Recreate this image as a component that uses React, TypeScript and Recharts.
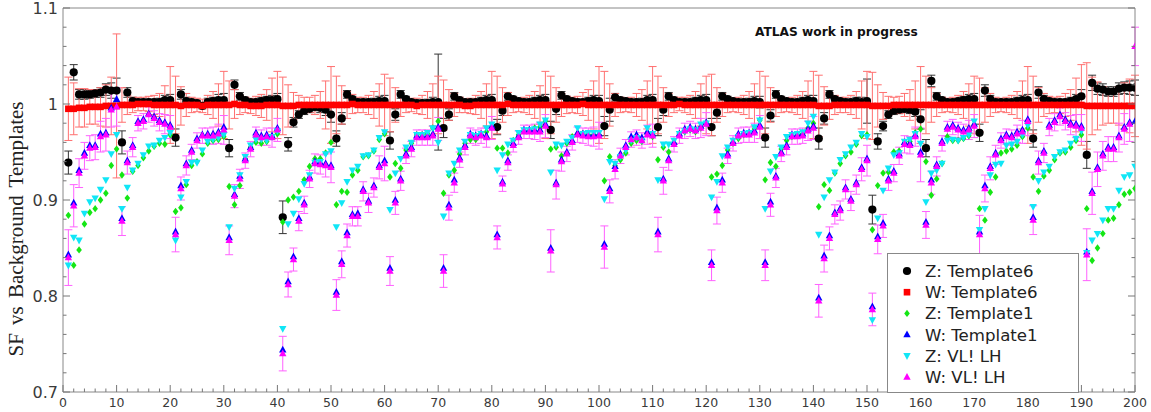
import { ScatterChart, Scatter, XAxis, YAxis, ErrorBar } from 'recharts'

// bin index along the x axis
const bins = Array.from({ length: 200 }, (_, i) => i + 1)

const xTicks = Array.from({ length: 101 }, (_, i) => i * 2)
const yTicks = Array.from({ length: 21 }, (_, i) => Math.round((0.7 + i * 0.02) * 100) / 100)

// Z: Template6
const zTemplate6 = [
    0.939, 1.033, 1.010, 1.010, 1.010, 1.011, 1.012, 1.015, 1.014, 1.014,
    0.960, 1.012, 1.003, 1.002, 1.002, 1.002, 1.002, 1.002, 1.004, 1.004,
    0.965, 1.010, 1.003, 1.002, 1.001, 0.998, 1.002, 1.003, 1.004, 1.004,
    0.954, 1.020, 1.008, 1.004, 1.002, 1.002, 1.003, 1.004, 1.004, 1.005,
    0.882, 0.958, 0.981, 0.989, 0.993, 0.995, 0.997, 0.996, 0.994, 0.989,
    0.964, 0.985, 1.010, 1.005, 1.002, 1.002, 1.002, 1.002, 1.003, 1.003,
    0.962, 0.989, 1.010, 1.005, 1.002, 1.001, 1.001, 1.001, 1.002, 1.002,
    0.975, 0.989, 1.008, 1.004, 1.002, 1.002, 1.002, 1.003, 1.004, 1.004,
    0.976, 0.993, 1.008, 1.005, 1.003, 1.002, 1.002, 1.003, 1.004, 1.004,
    0.973, 0.995, 1.009, 1.005, 1.003, 1.002, 1.002, 1.003, 1.004, 1.003,
    0.977, 0.994, 1.007, 1.004, 1.003, 1.002, 1.002, 1.002, 1.004, 1.004,
    0.976, 0.994, 1.008, 1.004, 1.002, 1.002, 1.002, 1.003, 1.004, 1.004,
    0.976, 0.991, 1.008, 1.005, 1.003, 1.002, 1.002, 1.002, 1.003, 1.002,
    0.965, 0.988, 1.010, 1.005, 1.003, 1.002, 1.002, 1.003, 1.004, 1.003,
    0.964, 0.985, 1.010, 1.005, 1.003, 1.002, 1.002, 1.003, 1.002, 1.003,
    0.890, 0.961, 0.977, 0.989, 0.993, 0.994, 0.995, 0.994, 0.992, 0.984,
    0.954, 1.024, 1.008, 1.004, 1.002, 1.002, 1.003, 1.004, 1.005, 1.005,
    0.970, 1.014, 1.005, 1.002, 1.002, 1.002, 1.002, 1.003, 1.004, 1.004,
    0.964, 1.012, 1.005, 1.003, 1.002, 1.002, 1.002, 1.003, 1.005, 1.008,
    0.947, 1.022, 1.016, 1.015, 1.013, 1.013, 1.016, 1.017, 1.017, 1.017,
]
const zTemplate6Err = [
    0.012, 0.008, 0.005, 0.005, 0.004, 0.004, 0.005, 0.006, 0.008, 0.013,
    0.012, 0.005, 0.004, 0.003, 0.003, 0.003, 0.003, 0.004, 0.005, 0.006,
    0.009, 0.005, 0.004, 0.003, 0.003, 0.003, 0.004, 0.004, 0.006, 0.007,
    0.009, 0.005, 0.004, 0.003, 0.003, 0.003, 0.004, 0.004, 0.005, 0.006,
    0.017, 0.007, 0.005, 0.004, 0.004, 0.004, 0.004, 0.005, 0.006, 0.008,
    0.008, 0.006, 0.004, 0.003, 0.003, 0.003, 0.003, 0.004, 0.005, 0.006,
    0.009, 0.006, 0.004, 0.003, 0.003, 0.003, 0.003, 0.004, 0.005, 0.050,
    0.010, 0.006, 0.004, 0.003, 0.003, 0.003, 0.003, 0.004, 0.005, 0.006,
    0.008, 0.005, 0.004, 0.003, 0.003, 0.003, 0.003, 0.004, 0.005, 0.006,
    0.009, 0.006, 0.004, 0.003, 0.003, 0.003, 0.003, 0.004, 0.005, 0.006,
    0.010, 0.012, 0.004, 0.003, 0.003, 0.003, 0.003, 0.004, 0.005, 0.006,
    0.009, 0.006, 0.004, 0.003, 0.003, 0.003, 0.003, 0.004, 0.005, 0.006,
    0.009, 0.006, 0.004, 0.003, 0.003, 0.003, 0.003, 0.004, 0.005, 0.006,
    0.010, 0.006, 0.004, 0.003, 0.003, 0.003, 0.003, 0.004, 0.005, 0.006,
    0.011, 0.006, 0.004, 0.003, 0.003, 0.003, 0.003, 0.004, 0.005, 0.023,
    0.015, 0.008, 0.005, 0.004, 0.004, 0.004, 0.004, 0.004, 0.005, 0.010,
    0.009, 0.006, 0.004, 0.003, 0.003, 0.003, 0.003, 0.004, 0.005, 0.006,
    0.009, 0.006, 0.004, 0.003, 0.003, 0.003, 0.003, 0.004, 0.005, 0.006,
    0.009, 0.006, 0.004, 0.003, 0.003, 0.003, 0.003, 0.004, 0.005, 0.007,
    0.014, 0.008, 0.006, 0.006, 0.005, 0.005, 0.006, 0.006, 0.007, 0.008,
]

// W: Template6
const wTemplate6 = [
    0.995, 0.995, 0.996, 0.996, 0.997, 0.997, 0.997, 0.998, 0.998, 0.998,
    0.999, 0.999, 0.999, 1.000, 1.000, 1.000, 0.999, 0.999, 0.999, 0.999,
    0.999, 0.998, 0.999, 0.999, 0.999, 0.998, 0.999, 0.999, 0.999, 0.999,
    0.999, 1.000, 0.999, 0.999, 0.998, 0.998, 0.998, 0.999, 0.999, 0.999,
    0.998, 0.998, 0.998, 0.999, 0.999, 0.999, 0.999, 0.999, 0.999, 0.999,
    0.999, 0.999, 0.999, 1.000, 0.999, 0.999, 0.999, 0.999, 0.999, 0.999,
    0.999, 0.999, 0.999, 0.999, 0.999, 0.998, 0.999, 0.999, 0.999, 0.999,
    0.999, 0.999, 0.999, 0.999, 0.998, 0.998, 0.999, 0.999, 0.999, 0.999,
    0.999, 0.999, 1.000, 0.999, 0.999, 0.999, 0.999, 0.999, 0.999, 0.999,
    0.999, 0.999, 0.999, 0.999, 0.999, 0.999, 1.000, 0.999, 0.999, 0.999,
    0.999, 0.999, 0.999, 0.999, 0.999, 0.999, 0.999, 0.999, 0.999, 0.999,
    0.999, 0.999, 0.999, 0.999, 1.000, 0.999, 0.999, 0.999, 0.999, 0.999,
    0.999, 0.999, 0.999, 0.999, 0.999, 0.999, 0.999, 0.999, 0.999, 0.999,
    0.999, 0.999, 0.999, 0.999, 0.999, 0.999, 0.999, 0.999, 0.999, 0.999,
    0.998, 0.998, 0.998, 0.999, 0.999, 0.999, 0.999, 0.999, 0.999, 0.999,
    0.998, 0.998, 0.998, 0.998, 0.999, 0.999, 0.999, 0.999, 0.999, 0.999,
    0.999, 0.999, 0.999, 0.999, 0.999, 0.999, 0.999, 0.999, 0.999, 0.999,
    0.999, 0.999, 0.999, 0.999, 0.999, 0.999, 0.999, 0.999, 0.999, 0.999,
    0.999, 0.999, 0.999, 0.999, 0.999, 0.999, 0.999, 0.999, 0.999, 0.999,
    0.998, 0.998, 0.998, 0.998, 0.998, 0.998, 0.998, 0.998, 0.998, 0.998,
]
const wTemplate6Err = [
    0.033, 0.027, 0.020, 0.020, 0.018, 0.018, 0.020, 0.022, 0.030, 0.075,
    0.018, 0.010, 0.008, 0.007, 0.007, 0.008, 0.010, 0.012, 0.020, 0.040,
    0.030, 0.020, 0.012, 0.008, 0.007, 0.007, 0.010, 0.014, 0.022, 0.035,
    0.025, 0.015, 0.010, 0.008, 0.008, 0.010, 0.012, 0.016, 0.028, 0.035,
    0.030, 0.022, 0.014, 0.010, 0.008, 0.008, 0.010, 0.014, 0.025, 0.040,
    0.030, 0.020, 0.014, 0.010, 0.008, 0.008, 0.010, 0.014, 0.022, 0.032,
    0.028, 0.018, 0.012, 0.008, 0.007, 0.008, 0.010, 0.014, 0.022, 0.030,
    0.026, 0.016, 0.012, 0.008, 0.007, 0.008, 0.010, 0.014, 0.022, 0.035,
    0.030, 0.018, 0.012, 0.008, 0.007, 0.008, 0.010, 0.014, 0.020, 0.035,
    0.030, 0.018, 0.012, 0.009, 0.008, 0.009, 0.012, 0.016, 0.025, 0.040,
    0.035, 0.022, 0.012, 0.008, 0.007, 0.008, 0.012, 0.016, 0.025, 0.040,
    0.030, 0.018, 0.012, 0.008, 0.007, 0.008, 0.010, 0.014, 0.022, 0.030,
    0.032, 0.018, 0.012, 0.008, 0.007, 0.008, 0.010, 0.014, 0.022, 0.035,
    0.030, 0.018, 0.012, 0.008, 0.007, 0.008, 0.010, 0.014, 0.025, 0.035,
    0.032, 0.020, 0.014, 0.010, 0.008, 0.008, 0.010, 0.014, 0.025, 0.035,
    0.035, 0.022, 0.014, 0.010, 0.008, 0.009, 0.012, 0.016, 0.025, 0.040,
    0.030, 0.018, 0.012, 0.008, 0.007, 0.008, 0.010, 0.014, 0.022, 0.030,
    0.028, 0.018, 0.012, 0.008, 0.007, 0.008, 0.010, 0.014, 0.025, 0.040,
    0.030, 0.018, 0.012, 0.009, 0.008, 0.009, 0.012, 0.016, 0.028, 0.042,
    0.045, 0.030, 0.025, 0.020, 0.018, 0.018, 0.020, 0.024, 0.028, 0.032,
]

// Z: Template1
const zTemplate1 = [
    0.884, 0.832, 0.848, 0.875, 0.887, 0.891, 0.900, 0.907, 0.936, 0.953,
    0.926, 0.902, 0.930, 0.936, 0.944, 0.951, 0.956, 0.959, 0.958, 0.968,
    0.888, 0.892, 0.916, 0.936, 0.940, 0.948, 0.959, 0.962, 0.963, 0.966,
    0.914, 0.895, 0.915, 0.943, 0.955, 0.960, 0.959, 0.961, 0.966, 0.969,
    0.877, 0.900, 0.903, 0.909, 0.921, 0.935, 0.943, 0.943, 0.949, 0.960,
    0.895, 0.909, 0.908, 0.926, 0.931, 0.945, 0.946, 0.951, 0.963, 0.969,
    0.924, 0.938, 0.933, 0.952, 0.959, 0.968, 0.968, 0.969, 0.975, 0.982,
    0.907, 0.926, 0.931, 0.948, 0.959, 0.963, 0.963, 0.968, 0.971, 0.976,
    0.954, 0.954, 0.949, 0.962, 0.968, 0.972, 0.973, 0.975, 0.976, 0.982,
    0.953, 0.955, 0.946, 0.959, 0.966, 0.969, 0.969, 0.968, 0.968, 0.968,
    0.920, 0.945, 0.936, 0.942, 0.949, 0.959, 0.962, 0.961, 0.969, 0.966,
    0.942, 0.955, 0.950, 0.959, 0.969, 0.971, 0.973, 0.971, 0.975, 0.980,
    0.924, 0.927, 0.936, 0.952, 0.959, 0.964, 0.968, 0.969, 0.974, 0.983,
    0.921, 0.939, 0.935, 0.953, 0.962, 0.966, 0.968, 0.969, 0.975, 0.980,
    0.893, 0.916, 0.910, 0.928, 0.938, 0.946, 0.950, 0.958, 0.967, 0.968,
    0.869, 0.915, 0.928, 0.929, 0.950, 0.951, 0.959, 0.961, 0.970, 0.974,
    0.940, 0.905, 0.922, 0.938, 0.966, 0.962, 0.962, 0.964, 0.967, 0.978,
    0.891, 0.879, 0.908, 0.924, 0.949, 0.951, 0.953, 0.957, 0.966, 0.975,
    0.924, 0.909, 0.925, 0.931, 0.942, 0.949, 0.950, 0.955, 0.962, 0.968,
    0.891, 0.837, 0.850, 0.865, 0.879, 0.881, 0.895, 0.906, 0.908, 0.912,
]

// W: Template1
const wTemplate1 = [
    0.843, 0.897, 0.931, 0.949, 0.957, 0.957, 0.969, 0.970, 0.996, 1.005,
    0.881, 0.941, 0.957, 0.982, 0.984, 0.990, 0.987, 0.983, 0.981, 0.978,
    0.867, 0.915, 0.938, 0.952, 0.964, 0.968, 0.969, 0.969, 0.971, 0.976,
    0.861, 0.906, 0.925, 0.943, 0.955, 0.970, 0.967, 0.968, 0.967, 0.975,
    0.744, 0.815, 0.841, 0.881, 0.897, 0.924, 0.940, 0.939, 0.938, 0.936,
    0.804, 0.836, 0.866, 0.885, 0.886, 0.911, 0.899, 0.915, 0.936, 0.941,
    0.829, 0.900, 0.922, 0.948, 0.955, 0.967, 0.967, 0.967, 0.969, 0.976,
    0.829, 0.895, 0.921, 0.944, 0.957, 0.969, 0.967, 0.969, 0.967, 0.977,
    0.864, 0.919, 0.941, 0.959, 0.967, 0.973, 0.973, 0.973, 0.973, 0.979,
    0.850, 0.918, 0.942, 0.950, 0.962, 0.970, 0.969, 0.968, 0.968, 0.969,
    0.854, 0.912, 0.935, 0.948, 0.957, 0.966, 0.968, 0.965, 0.971, 0.969,
    0.867, 0.922, 0.943, 0.960, 0.969, 0.974, 0.976, 0.974, 0.977, 0.981,
    0.835, 0.892, 0.921, 0.948, 0.961, 0.969, 0.970, 0.970, 0.972, 0.978,
    0.835, 0.898, 0.925, 0.950, 0.957, 0.968, 0.968, 0.969, 0.974, 0.977,
    0.798, 0.842, 0.863, 0.887, 0.891, 0.913, 0.901, 0.918, 0.934, 0.943,
    0.789, 0.862, 0.876, 0.922, 0.930, 0.948, 0.960, 0.959, 0.968, 0.950,
    0.877, 0.921, 0.937, 0.961, 0.976, 0.978, 0.975, 0.973, 0.975, 0.979,
    0.867, 0.915, 0.935, 0.949, 0.964, 0.968, 0.967, 0.971, 0.973, 0.984,
    0.882, 0.941, 0.951, 0.978, 0.983, 0.989, 0.984, 0.980, 0.979, 0.977,
    0.846, 0.909, 0.934, 0.948, 0.955, 0.955, 0.967, 0.976, 0.981, 0.982,
]

// Z: VL! LH
const zVlLh = [
    0.832, 0.861, 0.858, 0.886, 0.898, 0.902, 0.911, 0.921, 0.948, 0.968,
    0.891, 0.913, 0.931, 0.938, 0.947, 0.956, 0.957, 0.962, 0.965, 0.970,
    0.858, 0.903, 0.919, 0.939, 0.939, 0.952, 0.961, 0.963, 0.965, 0.968,
    0.872, 0.912, 0.926, 0.945, 0.957, 0.963, 0.963, 0.962, 0.966, 0.972,
    0.766, 0.875, 0.886, 0.901, 0.917, 0.926, 0.939, 0.940, 0.948, 0.951,
    0.872, 0.897, 0.919, 0.931, 0.935, 0.946, 0.947, 0.952, 0.965, 0.971,
    0.890, 0.928, 0.943, 0.955, 0.960, 0.968, 0.968, 0.970, 0.975, 0.960,
    0.883, 0.928, 0.938, 0.952, 0.961, 0.968, 0.967, 0.969, 0.975, 0.979,
    0.931, 0.947, 0.958, 0.962, 0.970, 0.973, 0.973, 0.974, 0.979, 0.983,
    0.929, 0.958, 0.957, 0.961, 0.965, 0.975, 0.969, 0.970, 0.970, 0.970,
    0.901, 0.940, 0.938, 0.945, 0.952, 0.962, 0.965, 0.962, 0.975, 0.969,
    0.921, 0.958, 0.958, 0.962, 0.969, 0.972, 0.974, 0.973, 0.979, 0.980,
    0.903, 0.919, 0.946, 0.955, 0.962, 0.966, 0.969, 0.970, 0.976, 0.983,
    0.891, 0.930, 0.945, 0.955, 0.966, 0.968, 0.969, 0.971, 0.980, 0.987,
    0.864, 0.903, 0.921, 0.929, 0.942, 0.948, 0.955, 0.960, 0.969, 0.966,
    0.775, 0.881, 0.910, 0.933, 0.947, 0.949, 0.961, 0.963, 0.969, 0.959,
    0.898, 0.928, 0.931, 0.938, 0.962, 0.963, 0.962, 0.965, 0.968, 0.982,
    0.869, 0.891, 0.926, 0.937, 0.938, 0.957, 0.958, 0.961, 0.968, 0.978,
    0.893, 0.920, 0.929, 0.935, 0.945, 0.950, 0.952, 0.959, 0.964, 0.972,
    0.845, 0.858, 0.865, 0.879, 0.891, 0.891, 0.910, 0.924, 0.926, 0.935,
]

// W: VL! LH
const wVlLh = [
    0.840, 0.894, 0.928, 0.946, 0.954, 0.955, 0.966, 0.968, 0.994, 0.997,
    0.878, 0.939, 0.955, 0.980, 0.982, 0.989, 0.985, 0.981, 0.979, 0.976,
    0.864, 0.912, 0.936, 0.950, 0.962, 0.967, 0.967, 0.967, 0.969, 0.973,
    0.858, 0.904, 0.922, 0.941, 0.953, 0.968, 0.965, 0.966, 0.965, 0.973,
    0.740, 0.812, 0.838, 0.878, 0.895, 0.922, 0.938, 0.937, 0.936, 0.934,
    0.801, 0.833, 0.863, 0.883, 0.883, 0.909, 0.897, 0.913, 0.934, 0.938,
    0.826, 0.897, 0.920, 0.946, 0.953, 0.965, 0.965, 0.965, 0.967, 0.974,
    0.826, 0.892, 0.918, 0.942, 0.955, 0.967, 0.965, 0.967, 0.965, 0.975,
    0.861, 0.917, 0.939, 0.957, 0.965, 0.971, 0.971, 0.971, 0.971, 0.977,
    0.847, 0.916, 0.940, 0.948, 0.960, 0.968, 0.967, 0.966, 0.966, 0.967,
    0.851, 0.909, 0.932, 0.946, 0.955, 0.963, 0.965, 0.962, 0.968, 0.967,
    0.864, 0.920, 0.941, 0.958, 0.967, 0.972, 0.974, 0.972, 0.975, 0.979,
    0.832, 0.889, 0.918, 0.946, 0.959, 0.967, 0.968, 0.968, 0.970, 0.976,
    0.832, 0.895, 0.923, 0.948, 0.955, 0.966, 0.966, 0.967, 0.972, 0.975,
    0.795, 0.839, 0.860, 0.885, 0.889, 0.911, 0.899, 0.916, 0.932, 0.941,
    0.786, 0.859, 0.873, 0.920, 0.928, 0.946, 0.958, 0.957, 0.966, 0.947,
    0.874, 0.918, 0.935, 0.959, 0.974, 0.976, 0.973, 0.971, 0.973, 0.977,
    0.864, 0.912, 0.933, 0.947, 0.962, 0.966, 0.965, 0.969, 0.971, 0.982,
    0.879, 0.939, 0.949, 0.976, 0.981, 0.987, 0.982, 0.978, 0.977, 0.975,
    0.843, 0.907, 0.932, 0.946, 0.953, 0.953, 0.965, 0.974, 0.979, 1.060,
]
const wVlLhErr = [
    0.029, 0.022, 0.015, 0.014, 0.013, 0.013, 0.016, 0.017, 0.018, 0.020,
    0.015, 0.012, 0.010, 0.008, 0.008, 0.008, 0.008, 0.009, 0.010, 0.012,
    0.018, 0.012, 0.010, 0.008, 0.008, 0.008, 0.008, 0.009, 0.010, 0.015,
    0.015, 0.012, 0.010, 0.008, 0.008, 0.008, 0.008, 0.009, 0.010, 0.012,
    0.018, 0.013, 0.012, 0.010, 0.009, 0.009, 0.010, 0.010, 0.012, 0.016,
    0.016, 0.014, 0.012, 0.010, 0.010, 0.010, 0.010, 0.010, 0.012, 0.018,
    0.015, 0.012, 0.010, 0.008, 0.008, 0.008, 0.008, 0.008, 0.010, 0.012,
    0.017, 0.013, 0.010, 0.008, 0.008, 0.008, 0.008, 0.008, 0.010, 0.012,
    0.012, 0.008, 0.008, 0.007, 0.007, 0.007, 0.007, 0.008, 0.010, 0.012,
    0.022, 0.015, 0.010, 0.008, 0.008, 0.008, 0.008, 0.009, 0.010, 0.014,
    0.022, 0.012, 0.010, 0.008, 0.008, 0.008, 0.008, 0.008, 0.010, 0.012,
    0.018, 0.014, 0.010, 0.008, 0.008, 0.008, 0.008, 0.008, 0.010, 0.012,
    0.016, 0.014, 0.010, 0.008, 0.008, 0.008, 0.008, 0.008, 0.010, 0.012,
    0.016, 0.012, 0.010, 0.008, 0.008, 0.008, 0.008, 0.008, 0.010, 0.012,
    0.017, 0.014, 0.012, 0.010, 0.010, 0.010, 0.010, 0.010, 0.012, 0.016,
    0.017, 0.015, 0.012, 0.010, 0.009, 0.009, 0.009, 0.009, 0.010, 0.028,
    0.014, 0.012, 0.010, 0.008, 0.008, 0.008, 0.008, 0.008, 0.010, 0.012,
    0.020, 0.014, 0.012, 0.010, 0.008, 0.008, 0.008, 0.009, 0.012, 0.015,
    0.015, 0.012, 0.010, 0.009, 0.009, 0.009, 0.009, 0.010, 0.012, 0.014,
    0.027, 0.022, 0.018, 0.015, 0.013, 0.013, 0.015, 0.016, 0.018, 0.020,
]

type Kind = 'circle' | 'square' | 'diamond' | 'up' | 'down'

const series: Array<{ name: string; values: number[]; errors?: number[]; color: string; errColor?: string; kind: Kind }> = [
    { name: 'Z: Template6', values: zTemplate6, errors: zTemplate6Err, color: '#000000', errColor: '#333333', kind: 'circle' },
    { name: 'W: Template6', values: wTemplate6, errors: wTemplate6Err, color: '#ff0000', errColor: '#ff7070', kind: 'square' },
    { name: 'Z: Template1', values: zTemplate1, color: '#14e614', kind: 'diamond' },
    { name: 'W: Template1', values: wTemplate1, color: '#0000ff', kind: 'up' },
    { name: 'Z: VL! LH', values: zVlLh, color: '#10e6f6', kind: 'down' },
    { name: 'W: VL! LH', values: wVlLh, errors: wVlLhErr, color: '#ff00ff', errColor: '#ff60ff', kind: 'up' },
]

const marker = (kind: Kind, cx: number, cy: number, color: string) => {
    switch (kind) {
        case 'circle':
            return <circle cx={cx} cy={cy} r={4.1} fill={color} />
        case 'square':
            return <rect x={cx - 3.3} y={cy - 3.3} width={6.6} height={6.6} fill={color} />
        case 'diamond':
            return <polygon points={`${cx},${cy - 3.7} ${cx + 2.8},${cy} ${cx},${cy + 3.7} ${cx - 2.8},${cy}`} fill={color} />
        case 'up':
            return <polygon points={`${cx},${cy - 4.1} ${cx + 3.7},${cy + 2.7} ${cx - 3.7},${cy + 2.7}`} fill={color} />
        default:
            return <polygon points={`${cx},${cy + 4.1} ${cx + 3.7},${cy - 2.7} ${cx - 3.7},${cy - 2.7}`} fill={color} />
    }
}

const TICK = '#777'
const LABEL = '#3a3a3a'
const isMajorY = (v: number) => Math.abs(v * 10 - Math.round(v * 10)) < 1e-6

const BottomTick = ({ x, y, payload }: any) => {
    const major = payload.value % 10 === 0
    return (
        <g>
            <line x1={x} x2={x} y1={y} y2={y - (major ? 7 : 3.5)} stroke={TICK} />
            {major && (
                <text x={x} y={y + 15} textAnchor="middle" fontSize={12.5} fill={LABEL} fontFamily="DejaVu Sans">
                    {payload.value}
                </text>
            )}
        </g>
    )
}

const TopTick = ({ x, y, payload }: any) => {
    const major = payload.value % 10 === 0
    return <line x1={x} x2={x} y1={y} y2={y + (major ? 7 : 3.5)} stroke={TICK} />
}

const LeftTick = ({ x, y, payload }: any) => {
    const major = isMajorY(payload.value)
    return (
        <g>
            <line x1={x} x2={x + (major ? 7 : 3.5)} y1={y} y2={y} stroke={TICK} />
            {major && (
                <text x={x - 5} y={y + 6} textAnchor="end" fontSize={16} fill={LABEL} fontFamily="DejaVu Sans">
                    {payload.value}
                </text>
            )}
        </g>
    )
}

const RightTick = ({ x, y, payload }: any) => {
    const major = isMajorY(payload.value)
    return <line x1={x} x2={x - (major ? 7 : 3.5)} y1={y} y2={y} stroke={TICK} />
}

export default function App() {
    return (
        <div style={{ position: 'absolute', left: 0, top: 0, width: 1151, height: 412, background: '#fff' }}>
            <ScatterChart width={1151} height={412} margin={{ top: 7, right: 15, bottom: 0, left: 0 }}>
                <XAxis xAxisId="b" type="number" dataKey="x" domain={[0, 200]} ticks={xTicks} interval={0}
                    tick={<BottomTick />} tickLine={false} tickSize={0} tickMargin={0} height={20}
                    axisLine={{ stroke: '#888' }} allowDataOverflow />
                <XAxis xAxisId="t" orientation="top" type="number" domain={[0, 200]} ticks={xTicks} interval={0}
                    tick={<TopTick />} tickLine={false} tickSize={0} tickMargin={0} height={1}
                    axisLine={{ stroke: '#888' }} allowDataOverflow />
                <YAxis yAxisId="l" type="number" dataKey="y" domain={[0.7, 1.1]} ticks={yTicks} interval={0}
                    tick={<LeftTick />} tickLine={false} tickSize={0} tickMargin={0} width={63}
                    axisLine={{ stroke: '#888' }} allowDataOverflow />
                <YAxis yAxisId="r" orientation="right" type="number" domain={[0.7, 1.1]} ticks={yTicks} interval={0}
                    tick={<RightTick />} tickLine={false} tickSize={0} tickMargin={0} width={1}
                    axisLine={{ stroke: '#888' }} allowDataOverflow />
                {series.map(s => (
                    <Scatter
                        key={s.name}
                        name={s.name}
                        xAxisId="b"
                        yAxisId="l"
                        data={bins.map((x, i) => ({ x, y: s.values[i], err: s.errors ? s.errors[i] : 0 }))}
                        isAnimationActive={false}
                        shape={(p: any) => marker(s.kind, p.cx, p.cy, s.color)}
                    >
                        {s.errors && (
                            <ErrorBar dataKey="err" direction="y" width={4} stroke={s.errColor} strokeWidth={1} isAnimationActive={false} />
                        )}
                    </Scatter>
                ))}
            </ScatterChart>

            <svg width={1151} height={412} style={{ position: 'absolute', left: 0, top: 0, pointerEvents: 'none' }}>
                <text x={755} y={36} fontSize={12.2} fontWeight="bold" fontFamily="DejaVu Sans" fill="#111">
                    ATLAS work in progress
                </text>
                <text x={23} y={229} transform="rotate(-90, 23, 229)" textAnchor="middle" fontSize={21}
                    wordSpacing={3} fontFamily="Liberation Serif" fill="#222">
                    SF vs Background Templates
                </text>
                <g>
                    <rect x={887.5} y={253.5} width={191} height={139} fill="#fff" stroke="#888" />
                    {series.map((s, i) => (
                        <g key={s.name}>
                            {marker(s.kind, 907, 271 + i * 21.2, s.color)}
                            <text x={925} y={277 + i * 21.2} fontSize={16.6} fontFamily="DejaVu Sans" fill="#222">
                                {s.name}
                            </text>
                        </g>
                    ))}
                </g>
            </svg>
        </div>
    )
}
